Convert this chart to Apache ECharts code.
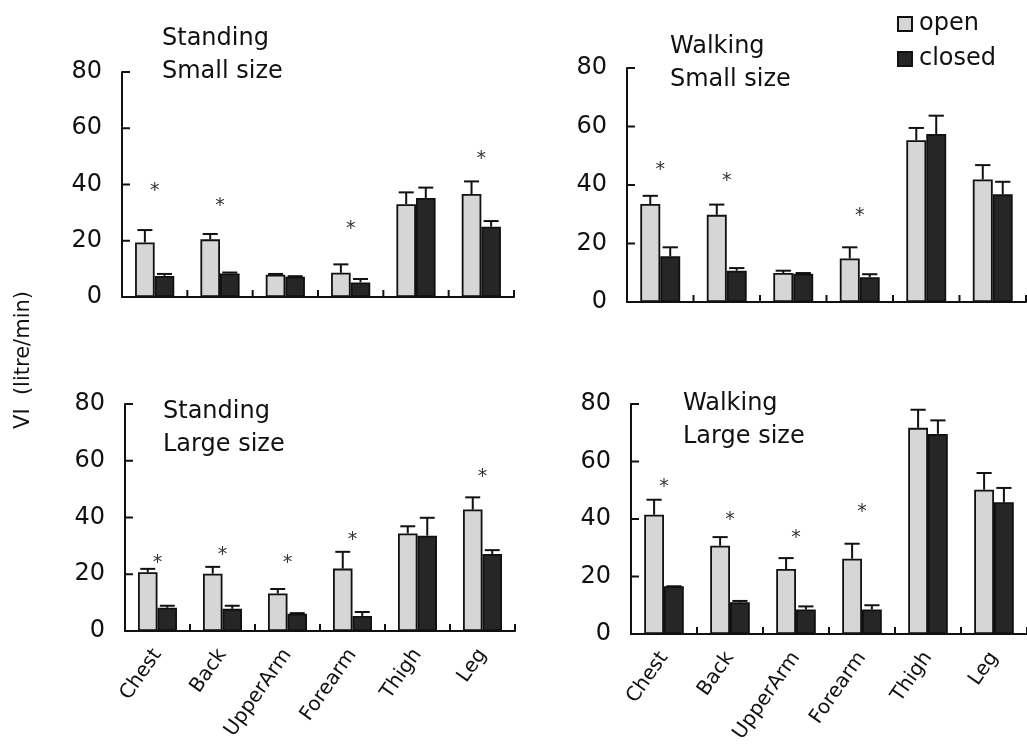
<!DOCTYPE html>
<html><head><meta charset="utf-8">
<script src="https://cdn.jsdelivr.net/npm/echarts@6/dist/echarts.min.js"></script>
<style>html,body{margin:0;padding:0;background:#fff}#c{width:1027px;height:746px}</style>
</head><body><div id="c"></div>
<script>
const categories = ['Chest','Back','UpperArm','Forearm','Thigh','Leg'];
const yTicks = [0, 20, 40, 60, 80];

const standSmallOpen      = [19.4, 20.5, 7.9, 8.6, 33.0, 36.6];
const standSmallOpenErr   = [23.8, 22.4, 8.2, 11.6, 37.2, 41.1];
const standSmallClosed    = [7.5, 8.4, 7.2, 5.2, 35.2, 25.0];
const standSmallClosedErr = [8.2, 8.7, 7.4, 6.4, 38.9, 27.0];
const standSmallStar      = [39.0, 33.9, null, 25.6, null, 50.5];

const walkSmallOpen      = [33.5, 29.8, 9.9, 14.9, 55.3, 41.9];
const walkSmallOpenErr   = [36.3, 33.3, 10.7, 18.7, 59.5, 46.8];
const walkSmallClosed    = [15.6, 10.7, 9.7, 8.5, 57.4, 36.8];
const walkSmallClosedErr = [18.7, 11.6, 9.9, 9.5, 63.7, 41.1];
const walkSmallStar      = [46.6, 42.8, null, 30.9, null, null];

const standLargeOpen      = [20.7, 20.2, 13.2, 22.0, 34.4, 42.8];
const standLargeOpenErr   = [21.9, 22.6, 14.8, 27.9, 36.9, 47.1];
const standLargeClosed    = [8.2, 7.8, 6.1, 5.3, 33.6, 27.1];
const standLargeClosedErr = [8.9, 8.9, 6.3, 6.7, 39.9, 28.5];
const standLargeStar      = [25.5, 28.2, 25.3, 33.5, null, 55.5];

const walkLargeOpen      = [41.5, 30.7, 22.6, 26.2, 71.7, 50.2];
const walkLargeOpenErr   = [46.7, 33.7, 26.4, 31.4, 78.0, 56.0];
const walkLargeClosed    = [16.6, 11.0, 8.5, 8.5, 69.6, 45.8];
const walkLargeClosedErr = [16.6, 11.5, 9.6, 10.0, 74.3, 50.8];
const walkLargeStar      = [52.5, 40.9, 34.8, 43.8, null, null];

const FONT = 'DejaVu Sans';
const INK = '#111';

const panels = [
  {title:'Standing\nSmall size', open:standSmallOpen, openErr:standSmallOpenErr, closed:standSmallClosed, closedErr:standSmallClosedErr, star:standSmallStar,
   grid:{left:122, top:72, width:392, height:225}, tpos:[162, 22], labels:false},
  {title:'Walking\nSmall size', open:walkSmallOpen, openErr:walkSmallOpenErr, closed:walkSmallClosed, closedErr:walkSmallClosedErr, star:walkSmallStar,
   grid:{left:627, top:68, width:399, height:234}, tpos:[670, 30], labels:false},
  {title:'Standing\nLarge size', open:standLargeOpen, openErr:standLargeOpenErr, closed:standLargeClosed, closedErr:standLargeClosedErr, star:standLargeStar,
   grid:{left:125, top:404, width:390, height:227}, tpos:[163, 395], labels:true},
  {title:'Walking\nLarge size', open:walkLargeOpen, openErr:walkLargeOpenErr, closed:walkLargeClosed, closedErr:walkLargeClosedErr, star:walkLargeStar,
   grid:{left:631, top:404, width:400, height:230}, tpos:[683, 387], labels:true}
];

function errRender(side){
  return function(params, api){
    const i = api.value(0), v = api.value(1), e = api.value(2);
    const bw = api.size([1, 0])[0];
    const p0 = api.coord([i, v]);
    const p1 = api.coord([i, e]);
    const x = p0[0] + side * bw * 0.15;
    const hw = bw * 0.115;
    return {type:'group', children:[
      {type:'line', shape:{x1:x, y1:p0[1], x2:x, y2:p1[1]}, style:{stroke:INK, lineWidth:2}},
      {type:'line', shape:{x1:x - hw, y1:p1[1], x2:x + hw, y2:p1[1]}, style:{stroke:INK, lineWidth:2}}
    ]};
  };
}
function starRender(params, api){
  const p = api.coord([api.value(0), api.value(1)]);
  return {type:'text', x:p[0], y:p[1] + 4,
    style:{text:'*', font:'19px "' + FONT + '"', align:'center', verticalAlign:'middle', textAlign:'center', textVerticalAlign:'middle', fill:'#333'}};
}
// inward ticks: x ticks at right edge of each category band, y ticks at each value tick
function xTickRender(params, api){
  const p = api.coord([api.value(0), 0]);
  const bw = api.size([1, 0])[0];
  const x = p[0] + bw / 2;
  return {type:'line', shape:{x1:x, y1:p[1], x2:x, y2:p[1] - 7}, style:{stroke:INK, lineWidth:2}};
}
function yTickRender(params, api){
  const p = api.coord([0, api.value(1)]);
  const bw = api.size([1, 0])[0];
  const x = p[0] - bw / 2;
  return {type:'line', shape:{x1:x, y1:p[1], x2:x + 8, y2:p[1]}, style:{stroke:INK, lineWidth:2}};
}

const grid = [], xAxis = [], yAxis = [], series = [], title = [];
panels.forEach((p, k) => {
  grid.push(Object.assign({containLabel:false}, p.grid));
  title.push({text:p.title, left:p.tpos[0], top:p.tpos[1], padding:0,
    textStyle:{fontFamily:FONT, fontSize:24, lineHeight:33, fontWeight:'normal', color:INK}});
  xAxis.push({type:'category', gridIndex:k, data:categories, boundaryGap:true,
    axisLine:{show:true, lineStyle:{color:INK, width:2}},
    axisTick:{show:false},
    axisLabel:{show:p.labels, rotate:55, interval:0, margin:20, fontFamily:FONT, fontSize:20, color:INK},
    splitLine:{show:false}});
  yAxis.push({type:'value', gridIndex:k, min:yTicks[0], max:yTicks[yTicks.length-1], interval:yTicks[1]-yTicks[0],
    axisLine:{show:true, lineStyle:{color:INK, width:2}},
    axisTick:{show:false},
    axisLabel:{margin:20, fontFamily:FONT, fontSize:24, color:INK},
    splitLine:{show:false}});
  series.push({name:'open', type:'bar', xAxisIndex:k, yAxisIndex:k, data:p.open, barWidth:'30%', barGap:'0%',
    itemStyle:{color:'#d6d6d6', borderColor:INK, borderWidth:1.8}});
  series.push({name:'closed', type:'bar', xAxisIndex:k, yAxisIndex:k, data:p.closed, barWidth:'30%', barGap:'0%',
    itemStyle:{color:'#262626', borderColor:INK, borderWidth:1.8}});
  series.push({name:'errOpen' + k, type:'custom', xAxisIndex:k, yAxisIndex:k, z:5,
    data:p.open.map((v, i) => [i, v, p.openErr[i]]), renderItem:errRender(-1)});
  series.push({name:'errClosed' + k, type:'custom', xAxisIndex:k, yAxisIndex:k, z:5,
    data:p.closed.map((v, i) => [i, v, p.closedErr[i]]), renderItem:errRender(1)});
  series.push({name:'star' + k, type:'custom', xAxisIndex:k, yAxisIndex:k, z:5,
    data:p.star.map((v, i) => v == null ? null : [i, v]).filter(d => d), renderItem:starRender});
  series.push({name:'xTicks' + k, type:'custom', xAxisIndex:k, yAxisIndex:k, z:6, clip:false, silent:true,
    data:categories.map((c, i) => [i, 0]), renderItem:xTickRender});
  series.push({name:'yTicks' + k, type:'custom', xAxisIndex:k, yAxisIndex:k, z:6, clip:false, silent:true,
    data:yTicks.slice(1).map(v => [0, v]), renderItem:yTickRender});
});

const chart = echarts.init(document.getElementById('c'), null, {renderer:'canvas'});
chart.setOption({
  animation:false,
  backgroundColor:'#fff',
  title,
  legend:{data:['open','closed'], orient:'vertical', left:897, top:12, padding:0, icon:'rect',
    itemWidth:14, itemHeight:14, itemGap:11,
    textStyle:{fontFamily:FONT, fontSize:24, lineHeight:24, color:INK, padding:[0,0,0,2]}},
  graphic:[{type:'text', x:24, y:360, rotation:Math.PI/2,
    style:{text:'VI  (litre/min)', font:'21px "' + FONT + '"', align:'center', verticalAlign:'middle', textAlign:'center', textVerticalAlign:'middle', fill:INK}}],
  grid, xAxis, yAxis, series
});
</script></body></html>
